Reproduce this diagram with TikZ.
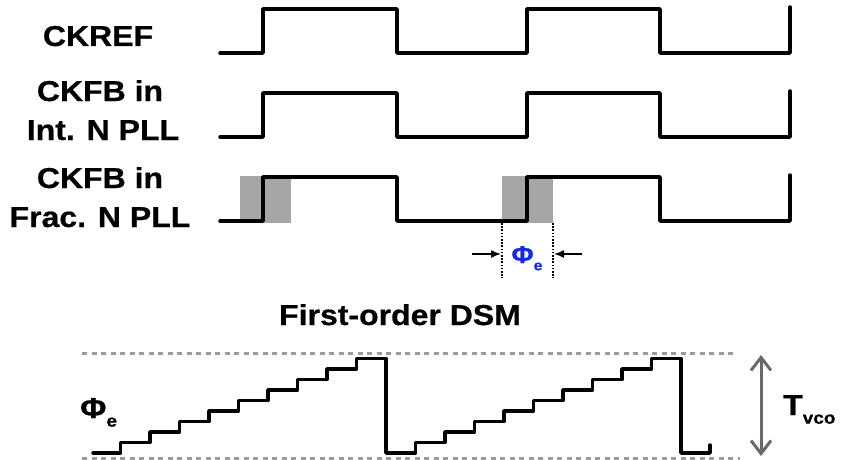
\documentclass[tikz,border=0pt]{standalone}
\usepackage{fontspec}
\setmainfont{Liberation Sans}[BoldFeatures={FakeBold=0.6}]
\usetikzlibrary{arrows.meta}
\definecolor{phiblue}{RGB}{20,40,235}
\definecolor{boxgray}{RGB}{166,166,166}
\definecolor{dashgray}{RGB}{155,155,155}
\definecolor{arrgray}{RGB}{105,105,105}
\newcommand{\subtx}[1]{\raisebox{-0.3em}{\fontsize{19}{19}\selectfont #1}}
\newcommand{\sq}[1]{\scalebox{1}[0.9]{#1}}
\begin{document}
\begin{tikzpicture}[x=1pt,y=-1pt,
  lbl/.style={font=\fontsize{32}{36}\selectfont\bfseries, inner sep=0pt, anchor=base},
  wave/.style={line width=3.5pt, line join=round, line cap=round},
  guide/.style={dashgray, line width=3pt, dash pattern=on 5pt off 4.5pt},
  vdot/.style={black, line width=1.2pt, dash pattern=on 1.6pt off 1.6pt},
  smallarr/.style={line width=1.5pt, -{Latex[length=10pt,width=8pt]}},
  bigarr/.style={arrgray, line width=3pt, {Straight Barb[length=13pt,width=20pt]}-{Straight Barb[length=13pt,width=20pt]}}]
\useasboundingbox (0,0) rectangle (841,460);

% labels
\node[lbl] (ckref) at (98,46) {\sq{CKREF}};
\node[lbl] (int1) at (100,101) {\sq{CKFB in}};
\node[lbl] (int2) at (103,140) {\sq{Int. N PLL}};
\node[lbl] (frac1) at (100,188) {\sq{CKFB in}};
\node[lbl] (frac2) at (100,227) {\sq{Frac. N PLL}};

% gray uncertainty boxes
\fill[boxgray] (240,176) rectangle (291,223);
\fill[boxgray] (502,176) rectangle (553,223);

% clock waveforms
\foreach \dy in {0,84,168}{
  \draw[wave] (220,{53+\dy}) -- (263,{53+\dy}) -- (263,{9+\dy}) -- (397,{9+\dy}) -- (397,{53+\dy})
    -- (527,{53+\dy}) -- (527,{9+\dy}) -- (660,{9+\dy}) -- (660,{53+\dy}) -- (790,{53+\dy}) -- (790,{7+\dy});
}

% phase error marker
\coordinate (dl0) at (502,223);
\coordinate (dl1) at (502,278);
\coordinate (dr0) at (553,223);
\coordinate (dr1) at (553,278);
\draw[vdot] (dl0) -- (dl1);
\draw[vdot] (dr0) -- (dr1);
\coordinate (al) at (472,254);
\coordinate (alt) at (501,254);
\coordinate (ar) at (582,254);
\coordinate (art) at (554,254);
\draw[smallarr] (al) -- (alt);
\draw[smallarr] (ar) -- (art);
\node[font=\fontsize{27}{28}\selectfont\bfseries, text=phiblue, inner sep=0pt, anchor=base] (phie) at (527,263)
  {\sq{Φ\raisebox{-0.3em}{\fontsize{16}{16}\selectfont e}}};

% DSM plot
\node[lbl] (title) at (400,325) {\sq{First-order DSM}};
\coordinate (gt0) at (82,353);
\coordinate (gt1) at (735,353);
\coordinate (gb0) at (82,458);
\coordinate (gb1) at (740,458);
\draw[guide] (gt0) -- (gt1);
\draw[guide] (gb0) -- (gb1);

\draw[wave] (93,453) -- (120.5,453) -- (120.5,442.5) -- (150,442.5) -- (150,432) -- (179.5,432)
  -- (179.5,421.5) -- (209,421.5) -- (209,411) -- (238.5,411) -- (238.5,400.5) -- (268,400.5)
  -- (268,390) -- (297.5,390) -- (297.5,379.5) -- (327,379.5) -- (327,369) -- (356.5,369)
  -- (356.5,358.5) -- (386,358.5) -- (386,453) -- (415.5,453) -- (415.5,442.5) -- (445,442.5)
  -- (445,432) -- (474.5,432) -- (474.5,421.5) -- (504,421.5) -- (504,411) -- (533.5,411)
  -- (533.5,400.5) -- (563,400.5) -- (563,390) -- (592.5,390) -- (592.5,379.5) -- (622,379.5)
  -- (622,369) -- (651.5,369) -- (651.5,358.5) -- (681,358.5) -- (681,453) -- (710,453) -- (710,445);

\coordinate (tv0) at (761,355);
\coordinate (tv1) at (761,456);
\draw[bigarr] (tv0) -- (tv1);
\node[lbl, anchor=base west] (tvco) at (783,415) {\sq{T\subtx{vco}}};
\node[lbl, anchor=base west] (phil) at (80,418) {\sq{Φ\subtx{e}}};
\end{tikzpicture}
\end{document}
